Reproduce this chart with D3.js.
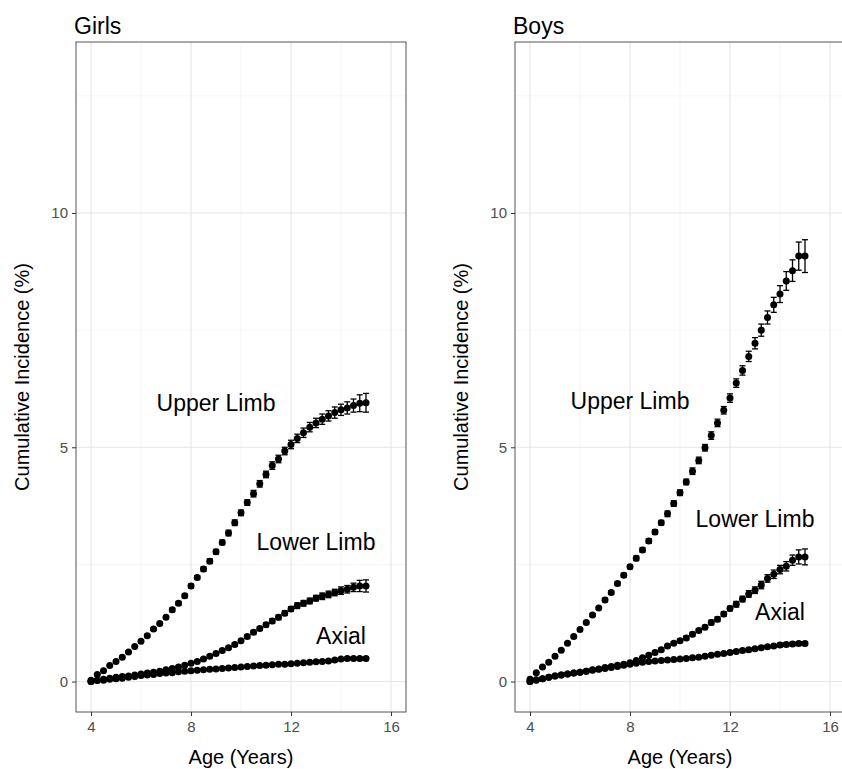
<html>
<head>
<script src="https://cdn.jsdelivr.net/npm/d3@7"></script>
<style>
  body{margin:0;background:#fff;}
  text{font-family:"Liberation Sans",Arial,sans-serif;}
</style>
</head>
<body>
<script>
// ages (years), one point every quarter year
var ages=[4,4.25,4.5,4.75,5,5.25,5.5,5.75,6,6.25,6.5,6.75,7,7.25,7.5,7.75,8,8.25,8.5,8.75,9,9.25,9.5,9.75,
          10,10.25,10.5,10.75,11,11.25,11.5,11.75,12,12.25,12.5,12.75,13,13.25,13.5,13.75,14,14.25,14.5,14.75,15];

// Girls
var girlsUpper=[0.03,0.15,0.23,0.34,0.43,0.52,0.63,0.75,0.86,0.98,1.12,1.24,1.37,1.53,1.67,1.83,2.04,2.22,2.40,2.57,2.77,2.97,3.17,3.39,
                3.60,3.82,4.01,4.22,4.42,4.61,4.75,4.92,5.06,5.19,5.31,5.43,5.52,5.60,5.67,5.74,5.80,5.84,5.89,5.94,5.95];
var girlsUpperErr=[0.01,0.01,0.01,0.02,0.02,0.02,0.02,0.02,0.03,0.03,0.03,0.03,0.03,0.04,0.04,0.04,0.04,0.04,0.05,0.05,0.05,0.05,0.06,0.06,
                   0.06,0.06,0.07,0.07,0.07,0.08,0.08,0.08,0.09,0.09,0.10,0.10,0.10,0.11,0.11,0.12,0.12,0.13,0.14,0.18,0.20];
var girlsLower=[0.00,0.03,0.05,0.07,0.09,0.11,0.12,0.14,0.16,0.18,0.20,0.22,0.25,0.28,0.31,0.35,0.39,0.43,0.48,0.54,0.60,0.66,0.72,0.79,
                0.87,0.96,1.05,1.13,1.21,1.29,1.37,1.46,1.55,1.62,1.67,1.72,1.78,1.82,1.86,1.90,1.94,1.97,2.01,2.04,2.04];
var girlsLowerErr=[0,0.01,0.01,0.01,0.01,0.01,0.01,0.01,0.01,0.01,0.02,0.02,0.02,0.02,0.02,0.02,0.02,0.02,0.02,0.03,0.03,0.03,0.03,0.03,
                   0.03,0.04,0.04,0.04,0.04,0.05,0.05,0.05,0.05,0.06,0.06,0.06,0.06,0.07,0.07,0.07,0.08,0.08,0.09,0.12,0.13];
var girlsAxial=[0.00,0.02,0.03,0.05,0.06,0.07,0.09,0.11,0.13,0.14,0.15,0.17,0.18,0.19,0.21,0.22,0.23,0.24,0.25,0.26,0.27,0.28,0.29,0.30,
                0.31,0.32,0.33,0.34,0.35,0.36,0.37,0.37,0.38,0.39,0.40,0.41,0.42,0.43,0.44,0.46,0.48,0.49,0.49,0.49,0.49];
var girlsAxialErr=[0,0.01,0.01,0.01,0.01,0.01,0.01,0.01,0.01,0.01,0.01,0.01,0.01,0.01,0.01,0.01,0.01,0.01,0.01,0.01,0.02,0.02,0.02,0.02,
                   0.02,0.02,0.02,0.02,0.02,0.02,0.02,0.02,0.02,0.02,0.02,0.02,0.02,0.02,0.02,0.03,0.03,0.03,0.03,0.03,0.03];

// Boys
var boysUpper=[0.05,0.19,0.31,0.41,0.54,0.67,0.82,0.96,1.11,1.26,1.42,1.57,1.74,1.90,2.09,2.27,2.45,2.63,2.81,3.00,3.19,3.39,3.58,3.80,
               4.03,4.26,4.49,4.72,4.99,5.25,5.52,5.79,6.05,6.37,6.64,6.94,7.22,7.50,7.77,8.04,8.27,8.55,8.77,9.08,9.08];
var boysUpperErr=[0.01,0.01,0.02,0.02,0.02,0.02,0.02,0.03,0.03,0.03,0.03,0.03,0.04,0.04,0.04,0.04,0.04,0.05,0.05,0.05,0.05,0.05,0.06,0.06,
                  0.06,0.06,0.07,0.07,0.07,0.08,0.08,0.08,0.09,0.09,0.10,0.11,0.12,0.13,0.14,0.16,0.18,0.20,0.23,0.30,0.35];
var boysLower=[0.00,0.03,0.06,0.09,0.12,0.14,0.16,0.18,0.20,0.22,0.25,0.27,0.30,0.32,0.35,0.37,0.40,0.45,0.51,0.56,0.62,0.68,0.76,0.82,
               0.87,0.93,1.01,1.09,1.16,1.26,1.33,1.44,1.56,1.65,1.76,1.87,1.95,2.06,2.20,2.29,2.39,2.46,2.59,2.66,2.66];
var boysLowerErr=[0,0.01,0.01,0.01,0.01,0.01,0.01,0.01,0.01,0.01,0.02,0.02,0.02,0.02,0.02,0.02,0.02,0.02,0.02,0.03,0.03,0.03,0.03,0.03,
                  0.03,0.04,0.04,0.04,0.04,0.05,0.05,0.05,0.05,0.06,0.06,0.07,0.07,0.08,0.08,0.09,0.09,0.10,0.11,0.15,0.17];
var boysAxial=[0.00,0.04,0.06,0.09,0.12,0.14,0.16,0.18,0.20,0.22,0.24,0.26,0.28,0.30,0.32,0.35,0.37,0.39,0.41,0.43,0.44,0.45,0.46,0.47,
               0.48,0.49,0.51,0.52,0.54,0.56,0.58,0.60,0.62,0.64,0.66,0.68,0.70,0.72,0.74,0.76,0.78,0.79,0.80,0.81,0.81];
var boysAxialErr=[0,0.01,0.01,0.01,0.01,0.01,0.01,0.01,0.01,0.01,0.01,0.01,0.01,0.01,0.01,0.01,0.01,0.02,0.02,0.02,0.02,0.02,0.02,0.02,
                  0.02,0.02,0.02,0.02,0.02,0.02,0.02,0.03,0.03,0.03,0.03,0.03,0.03,0.03,0.03,0.03,0.04,0.04,0.04,0.04,0.04];

var xTicks=[4,8,12,16];
var xMinor=[6,10,14];
var yTicks=[0,5,10];
var yMinor=[2.5,7.5,12.5];

var svg=d3.select('body').append('svg')
          .attr('width',842)
          .attr('height',769);

function drawPanel(left,title,series,labels)
{
  var top=42, bottom=712, w=330;
  var x=d3.scaleLinear().domain([3.4,16.6]).range([left,left+w]);
  var y=d3.scaleLinear().domain([-0.65,13.65]).range([bottom,top]);
  var g=svg.append('g');

  // grid
  g.selectAll('.vmin').data(xMinor).enter().append('line')
   .attr('x1',function(d){return x(d);}).attr('x2',function(d){return x(d);})
   .attr('y1',top).attr('y2',bottom)
   .attr('stroke','#f2f2f2').attr('stroke-width',0.8);
  g.selectAll('.hmin').data(yMinor).enter().append('line')
   .attr('y1',function(d){return y(d);}).attr('y2',function(d){return y(d);})
   .attr('x1',left).attr('x2',left+w)
   .attr('stroke','#f2f2f2').attr('stroke-width',0.8);
  g.selectAll('.vmaj').data(xTicks).enter().append('line')
   .attr('x1',function(d){return x(d);}).attr('x2',function(d){return x(d);})
   .attr('y1',top).attr('y2',bottom)
   .attr('stroke','#e6e6e6').attr('stroke-width',1.1);
  g.selectAll('.hmaj').data(yTicks).enter().append('line')
   .attr('y1',function(d){return y(d);}).attr('y2',function(d){return y(d);})
   .attr('x1',left).attr('x2',left+w)
   .attr('stroke','#e6e6e6').attr('stroke-width',1.1);

  // border
  g.append('rect')
   .attr('x',left).attr('y',top).attr('width',w).attr('height',bottom-top)
   .attr('fill','none').attr('stroke','#555').attr('stroke-width',1);

  // axes
  var xa=g.append('g').attr('transform','translate(0,'+bottom+')')
          .call(d3.axisBottom(x).tickValues(xTicks).tickSize(4).tickPadding(5));
  var ya=g.append('g').attr('transform','translate('+left+',0)')
          .call(d3.axisLeft(y).tickValues(yTicks).tickSize(4).tickPadding(4));
  [xa,ya].forEach(function(a){
    a.select('.domain').remove();
    a.selectAll('line').attr('stroke','#333');
    a.selectAll('text').attr('fill','#4d4d4d').style('font-size','15px')
     .style('font-family','"Liberation Sans",Arial,sans-serif');
  });

  // errorbars + points
  series.forEach(function(s){
    var pts=ages.map(function(a,i){return {a:a,v:s.v[i],e:s.e[i]};});
    var eb=g.append('g').attr('stroke','#000').attr('stroke-width',1.3);
    pts.forEach(function(p){
      if(p.e<=0) return;
      var cx=x(p.a), y1=y(p.v-p.e), y2=y(p.v+p.e);
      eb.append('line').attr('x1',cx).attr('x2',cx).attr('y1',y1).attr('y2',y2);
      eb.append('line').attr('x1',cx-3).attr('x2',cx+3).attr('y1',y1).attr('y2',y1);
      eb.append('line').attr('x1',cx-3).attr('x2',cx+3).attr('y1',y2).attr('y2',y2);
    });
    g.append('g').selectAll('circle').data(pts).enter().append('circle')
     .attr('cx',function(d){return x(d.a);})
     .attr('cy',function(d){return y(d.v);})
     .attr('r',3.5)
     .attr('fill','#000');
  });

  // curve labels
  g.selectAll('.lab').data(labels).enter().append('text')
   .attr('x',function(d){return x(d.x);})
   .attr('y',function(d){return y(d.y);})
   .attr('dy','0.35em')
   .attr('text-anchor','middle')
   .style('font-size','23px')
   .attr('fill','#000')
   .text(function(d){return d.t;});

  // titles
  g.append('text').attr('x',left-2).attr('y',34)
   .style('font-size','23px').attr('fill','#000').text(title);
  g.append('text').attr('x',left+w/2).attr('y',764)
   .attr('text-anchor','middle').style('font-size','20px').attr('fill','#000')
   .text('Age (Years)');
  g.append('text')
   .attr('transform','translate('+(left-54)+','+((top+bottom)/2)+') rotate(-90)')
   .attr('dy','0.35em')
   .attr('text-anchor','middle').style('font-size','20px').attr('fill','#000')
   .text('Cumulative Incidence (%)');
}

drawPanel(76,'Girls',
  [{v:girlsAxial,e:girlsAxialErr},{v:girlsLower,e:girlsLowerErr},{v:girlsUpper,e:girlsUpperErr}],
  [{t:'Upper Limb',x:9,y:5.95},{t:'Lower Limb',x:13,y:2.97},{t:'Axial',x:14,y:0.98}]);

drawPanel(515,'Boys',
  [{v:boysAxial,e:boysAxialErr},{v:boysLower,e:boysLowerErr},{v:boysUpper,e:boysUpperErr}],
  [{t:'Upper Limb',x:8,y:5.98},{t:'Lower Limb',x:13,y:3.46},{t:'Axial',x:14,y:1.48}]);
</script>
</body>
</html>
